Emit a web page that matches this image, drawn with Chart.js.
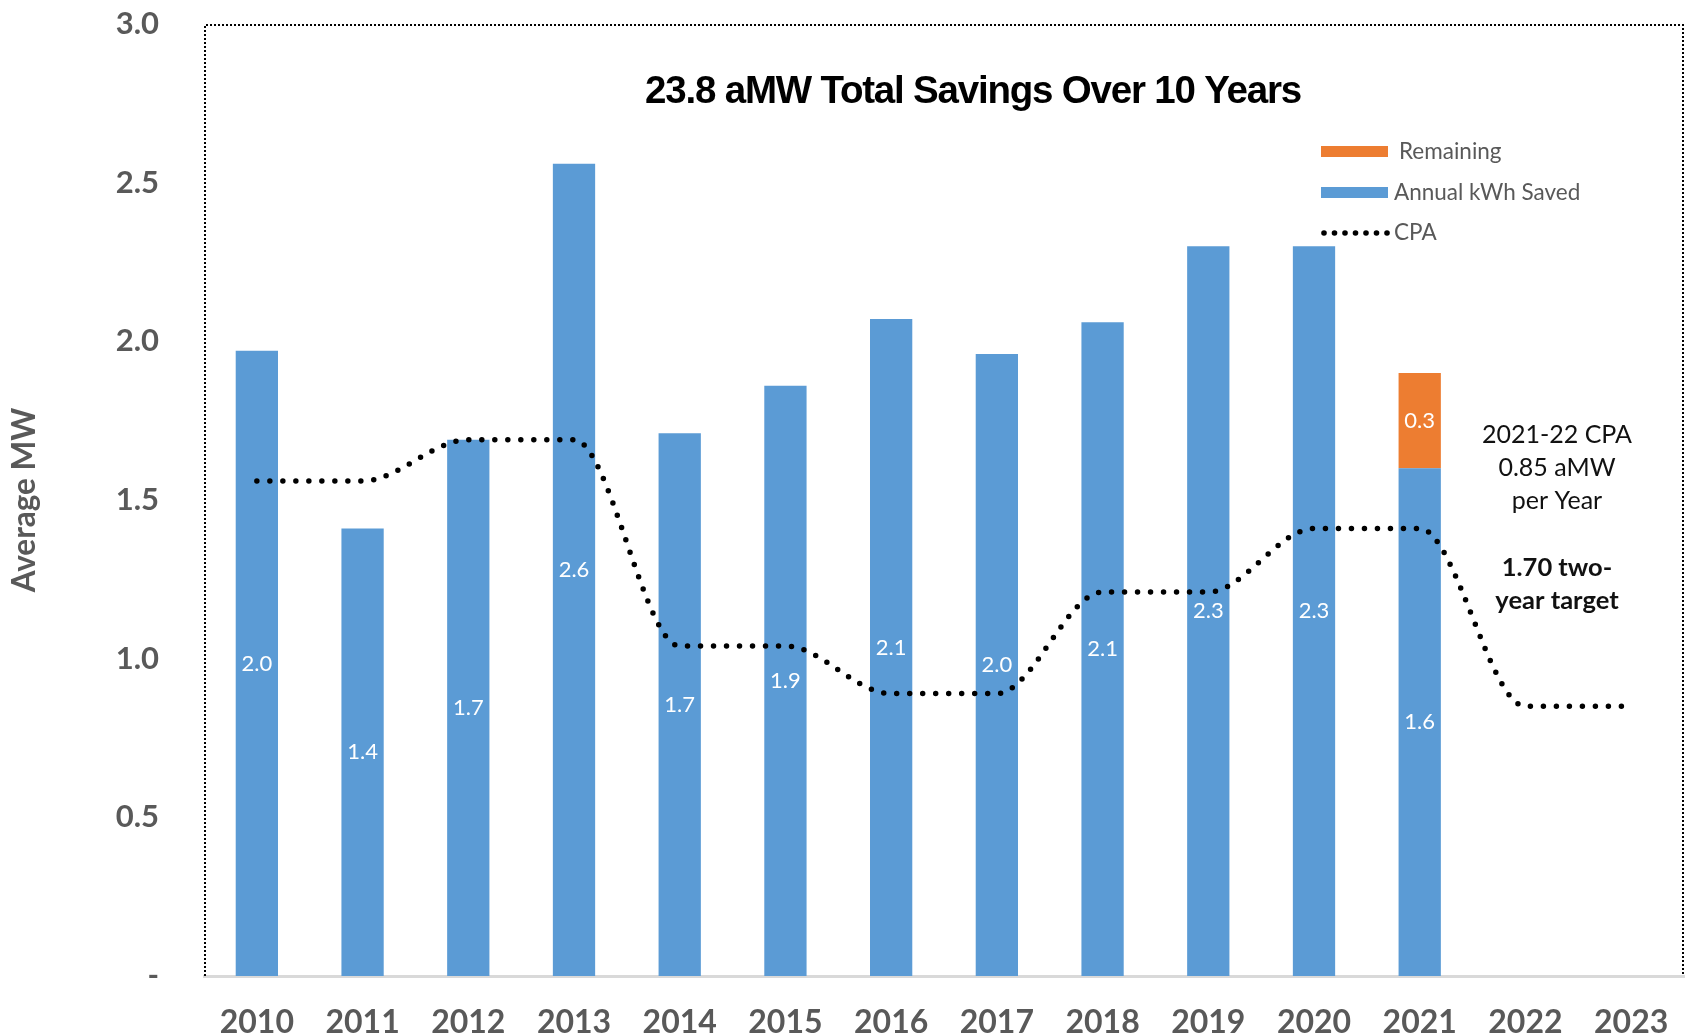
<!DOCTYPE html>
<html>
<head>
<meta charset="utf-8">
<script src="https://cdn.jsdelivr.net/npm/chart.js@4.4.0/dist/chart.umd.min.js"></script>
<style>
  html, body { margin: 0; padding: 0; background: #ffffff; }
  #wrap { width: 1687px; height: 1035px; position: relative; }
</style>
</head>
<body>
<div id="wrap"><canvas id="c"></canvas></div>
<script>
const years = ['2010','2011','2012','2013','2014','2015','2016','2017','2018','2019','2020','2021','2022','2023'];
const annualSaved = [1.97, 1.41, 1.69, 2.56, 1.71, 1.86, 2.07, 1.96, 2.06, 2.30, 2.30, 1.60, null, null];
const remaining   = [null, null, null, null, null, null, null, null, null, null, null, 0.30, null, null];
const cpa         = [1.56, 1.56, 1.69, 1.69, 1.04, 1.04, 0.89, 0.89, 1.21, 1.21, 1.41, 1.41, 0.85, 0.85];
const yTicks = [0, 0.5, 1.0, 1.5, 2.0, 2.5, 3.0];
const titleText = '23.8 aMW Total Savings Over 10 Years';
const noteLines = ['2021-22 CPA', '0.85 aMW', 'per Year'];
const noteBold = ['1.70 two-', 'year target'];

const BLUE = '#5B9BD5', ORANGE = '#ED7D31', GRAY = '#595959';
const FONT = 'Lato, "Open Sans", sans-serif';

const decorPlugin = {
  id: 'decor',
  beforeDatasetsDraw(chart) {
    const {ctx, chartArea: a} = chart;
    ctx.save();
    ctx.strokeStyle = '#000';
    ctx.lineWidth = 2;
    ctx.setLineDash([2, 2]);
    ctx.beginPath();
    ctx.moveTo(a.left + 1, a.bottom);
    ctx.lineTo(a.left + 1, a.top + 1);
    ctx.lineTo(a.right - 1, a.top + 1);
    ctx.lineTo(a.right - 1, a.bottom);
    ctx.stroke();
    ctx.restore();
  },
  afterDatasetsDraw(chart) {
    const {ctx, chartArea: a} = chart;
    ctx.save();
    // bar value labels
    ctx.fillStyle = '#ffffff';
    ctx.font = '22px ' + FONT;
    ctx.textAlign = 'center';
    ctx.textBaseline = 'middle';
    chart.data.datasets.forEach((ds, i) => {
      if (ds.type === 'line') return;
      const meta = chart.getDatasetMeta(i);
      meta.data.forEach((el, j) => {
        const v = ds.data[j];
        if (v === null || v === undefined) return;
        ctx.fillText(v.toFixed(1), el.x, (el.y + el.base) / 2);
      });
    });

    // title
    ctx.fillStyle = '#000';
    ctx.font = 'bold 38.5px "Liberation Sans", Arial, sans-serif';
    if ('letterSpacing' in ctx) ctx.letterSpacing = '-1.2px';
    ctx.fillText(titleText, a.left + 769, 92);
    if ('letterSpacing' in ctx) ctx.letterSpacing = '0px';

    // legend
    const lx = a.left + 1117, lw = 67;
    ctx.textAlign = 'left';
    ctx.font = '22.5px ' + FONT;
    ctx.fillStyle = ORANGE;
    ctx.fillRect(lx, 146, lw, 11);
    ctx.fillStyle = BLUE;
    ctx.fillRect(lx, 187, lw, 11);
    ctx.fillStyle = '#000';
    for (let k = 0; k < 7; k++) {
      ctx.beginPath();
      ctx.arc(lx + 3 + k * 10.5, 233, 2.8, 0, Math.PI * 2);
      ctx.fill();
    }
    ctx.fillStyle = GRAY;
    ctx.fillText('Remaining', lx + 78, 152);
    ctx.fillText('Annual kWh Saved', lx + 73, 193);
    ctx.fillText('CPA', lx + 73, 233);

    // annotation
    ctx.textAlign = 'center';
    ctx.fillStyle = '#111';
    const nx = a.left + 1353;
    ctx.font = '25px ' + FONT;
    noteLines.forEach((t, k) => ctx.fillText(t, nx, 435 + k * 33));
    ctx.font = 'bold 25.5px ' + FONT;
    noteBold.forEach((t, k) => ctx.fillText(t, nx, 568 + k * 33));
    ctx.restore();
  }
};

new Chart(document.getElementById('c'), {
  data: {
    labels: years,
    datasets: [
      { type: 'line', label: 'CPA', data: cpa, stack: 'cpa', order: 0,
        borderColor: '#000', borderWidth: 5.5, borderDash: [0, 13], borderCapStyle: 'round',
        pointRadius: 0, fill: false, cubicInterpolationMode: 'monotone' },
      { type: 'bar', label: 'Annual kWh Saved', data: annualSaved, stack: 's', order: 1,
        backgroundColor: BLUE, barPercentage: 0.8, categoryPercentage: 0.5 },
      { type: 'bar', label: 'Remaining', data: remaining, stack: 's', order: 1,
        backgroundColor: ORANGE, barPercentage: 0.8, categoryPercentage: 0.5 }
    ]
  },
  options: {
    responsive: true,
    maintainAspectRatio: false,
    animation: false,
    layout: { padding: { top: 24, right: 3, left: 0, bottom: 0 } },
    plugins: { legend: { display: false }, tooltip: { enabled: false }, title: { display: false } },
    scales: {
      x: {
        stacked: true,
        grid: { display: false, drawTicks: false },
        border: { display: true, color: '#d9d9d9', width: 3 },
        ticks: { color: GRAY, font: { family: FONT, size: 32, weight: 'bold' }, padding: 27, maxRotation: 0, autoSkip: false },
        afterFit(s) { s.height = 59; s.paddingLeft = 0; s.paddingRight = 0; }
      },
      y: {
        stacked: true,
        min: 0, max: 3,
        afterBuildTicks(s) { s.ticks = yTicks.map(v => ({ value: v })); },
        grid: { display: false, drawTicks: false },
        border: { display: false },
        ticks: {
          color: GRAY, font: { family: FONT, size: 31, weight: 'bold' }, padding: 45,
          callback: v => v === 0 ? '-' : Number(v).toFixed(1)
        },
        title: { display: true, text: 'Average MW', color: GRAY,
                 font: { family: FONT, size: 31.5, weight: 'bold' }, padding: { top: 6, bottom: 0 } },
        afterFit(s) { s.width = 204; s.paddingTop = 0; s.paddingBottom = 0; }
      }
    }
  },
  plugins: [decorPlugin]
});
</script>
</body>
</html>
